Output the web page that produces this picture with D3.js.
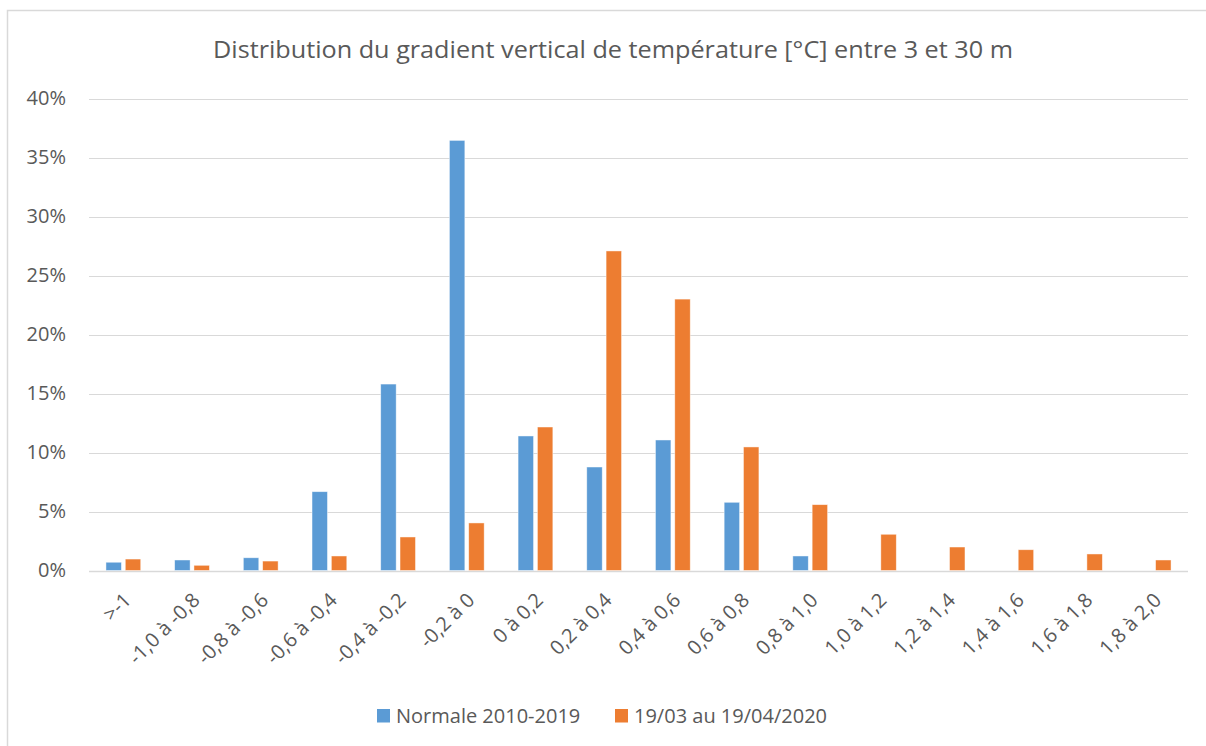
<!DOCTYPE html>
<html>
<head>
<meta charset="utf-8">
<script src="https://cdnjs.cloudflare.com/ajax/libs/d3/7.8.5/d3.min.js"></script>
<style>
  body { margin: 0; background: #fff; }
  svg text { font-family: "Open Sans", "Noto Sans", sans-serif; fill: #595959; }
</style>
</head>
<body>
<div id="chart"></div>
<script>
// ---------- DATA ---------- //
const categories = [">-1", "-1,0 à -0,8", "-0,8 à -0,6", "-0,6 à -0,4", "-0,4 à -0,2", "-0,2 à 0",
  "0 à 0,2", "0,2 à 0,4", "0,4 à 0,6", "0,6 à 0,8", "0,8 à 1,0", "1,0 à 1,2",
  "1,2 à 1,4", "1,4 à 1,6", "1,6 à 1,8", "1,8 à 2,0"];
const normale = [0.70, 0.89, 1.08, 6.68, 15.8, 36.45, 11.4, 8.77, 11.06, 5.78, 1.23, 0, 0, 0, 0, 0];
const periode2020 = [0.97, 0.44, 0.80, 1.23, 2.84, 4.03, 12.16, 27.08, 23.0, 10.47, 5.58, 3.07, 1.99, 1.76, 1.40, 0.89];
const seriesNames = ["Normale 2010-2019", "19/03 au 19/04/2020"];
const yTicks = [0, 5, 10, 15, 20, 25, 30, 35, 40];

const colors = ["#5B9BD5", "#ED7D31"];

// ---------- LAYOUT ---------- //
const W = 1206, H = 746;
const margin = {top: 98.5, right: 18, bottom: 175.5, left: 89};

const svg = d3.select("#chart").append("svg")
  .attr("width", W)
  .attr("height", H);

// chart border
svg.append("rect")
  .attr("x", 7.5).attr("y", 10.5)
  .attr("width", W + 10).attr("height", H + 10)
  .attr("fill", "none")
  .attr("stroke", "#d9d9d9")
  .attr("stroke-width", 1.5);

// title
svg.append("text")
  .attr("x", 613).attr("y", 58)
  .attr("text-anchor", "middle")
  .attr("textLength", 800)
  .attr("lengthAdjust", "spacingAndGlyphs")
  .style("font-size", "23px")
  .text("Distribution du gradient vertical de température [°C] entre 3 et 30 m");

// scales
const x = d3.scaleBand()
  .domain(categories)
  .range([margin.left, W - margin.right]);

const y = d3.scaleLinear()
  .domain([0, 40])
  .range([H - margin.bottom, margin.top]);

const barW = x.bandwidth() * 0.225;
const barGap = barW * 0.25;
const xSub = d3.scaleOrdinal()
  .domain([0, 1])
  .range([-barGap / 2 - barW, barGap / 2]);

// gridlines
svg.append("g")
  .selectAll("line")
  .data(yTicks)
  .enter()
  .append("line")
  .attr("x1", margin.left)
  .attr("x2", W - margin.right)
  .attr("y1", d => Math.round(y(d)) + 0.5)
  .attr("y2", d => Math.round(y(d)) + 0.5)
  .attr("stroke", "#d9d9d9")
  .attr("stroke-width", d => d === 0 ? 1.5 : 1);

// y axis labels
const yAxis = d3.axisLeft(y)
  .tickValues(yTicks)
  .tickSize(0)
  .tickPadding(0)
  .tickFormat(d => d + "%");

svg.append("g")
  .attr("transform", "translate(66,0)")
  .call(yAxis)
  .call(g => g.select(".domain").remove())
  .selectAll("text")
  .style("font-size", "20px")
  .attr("fill", "#595959");

// bars
const series = [normale, periode2020];
series.forEach((vals, si) => {
  svg.append("g")
    .selectAll("rect")
    .data(vals.map((v, i) => ({cat: categories[i], v: v})).filter(d => d.v > 0))
    .enter()
    .append("rect")
    .attr("x", d => x(d.cat) + x.bandwidth() / 2 + xSub(si))
    .attr("y", d => y(d.v))
    .attr("width", barW)
    .attr("height", d => y(0) - y(d.v))
    .attr("fill", colors[si])
    .attr("stroke", "#fff")
    .attr("stroke-opacity", 0.6)
    .attr("stroke-width", 0.75);
});

// x labels
svg.append("g")
  .selectAll("text")
  .data(categories)
  .enter()
  .append("text")
  .attr("text-anchor", "end")
  .attr("transform", d => "translate(" + (x(d) + x.bandwidth() / 2 + 4) + "," + (y(0) + 26) + ") rotate(-45)")
  .attr("dy", "0.35em")
  .style("font-size", "20px")
  .text(d => d);

// legend
const legend = svg.append("g");
const legendX = [377, 615];
seriesNames.forEach((name, i) => {
  legend.append("rect")
    .attr("x", legendX[i]).attr("y", 709)
    .attr("width", 13).attr("height", 13.5)
    .attr("fill", colors[i]);
  legend.append("text")
    .attr("x", legendX[i] + 19).attr("y", 722.5)
    .style("font-size", "20px")
    .text(name);
});
</script>
</body>
</html>
